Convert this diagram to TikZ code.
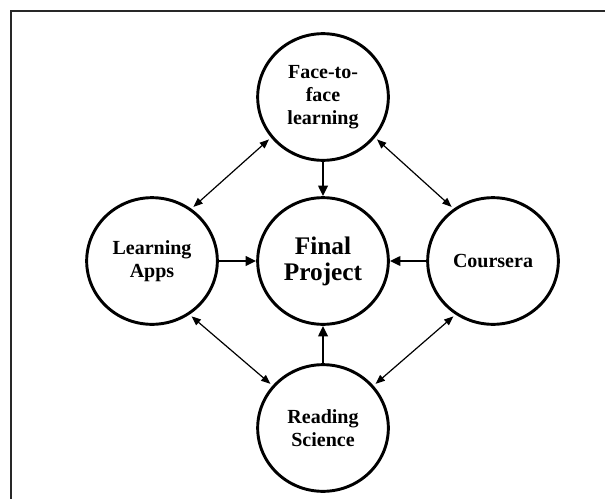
\documentclass[tikz,border=0pt]{standalone}
\usepackage{fontspec}
\setmainfont{Liberation Serif}
\usetikzlibrary{shapes.geometric,arrows.meta}

\begin{document}
\begin{tikzpicture}[x=0.75pt,y=0.75pt,yscale=-1,xscale=1,
  topic/.style={draw,ellipse,line width=2.2pt,minimum width=98pt,minimum height=95pt,
    inner sep=0pt,align=center,font=\fontsize{15}{17.5}\selectfont\bfseries},
  feeds/.style={line width=2pt,-{Triangle[length=8pt,width=7pt]}},
  links/.style={line width=0.9pt,{Triangle[length=7pt,width=5.5pt]}-{Triangle[length=7pt,width=5.5pt]},
    shorten <=2pt,shorten >=2pt}]
\useasboundingbox (0,0) rectangle (605,499);

%Frame lines
\draw [color={rgb, 255:red, 40; green, 40; blue, 40 }][line width=1.5pt] (605,11) -- (11,11) -- (11,499);

%Circles
\node [topic] (face) at (323,97) {Face-to-\\face\\learning};
\node [topic,font=\fontsize{19}{19.5}\selectfont\bfseries] (final) at (323,261) {Final\\Project};
\node [topic] (apps) at (152,261) {Learning\\Apps};
\node [topic] (coursera) at (493,261) {Coursera};
\node [topic] (reading) at (323,428) {Reading\\Science};

%Thick arrows into the centre
\draw [feeds] (face) -- (final);
\draw [feeds] (reading) -- (final);
\draw [feeds] (apps) -- (final);
\draw [feeds] (coursera) -- (final);

%Double arrows round the ring
\draw [links] (face.218) -- (apps.53);
\draw [links] (face.322) -- (coursera.127);
\draw [links] (reading.140) -- (apps.305);
\draw [links] (reading.40) -- (coursera.235);

\end{tikzpicture}
\end{document}
